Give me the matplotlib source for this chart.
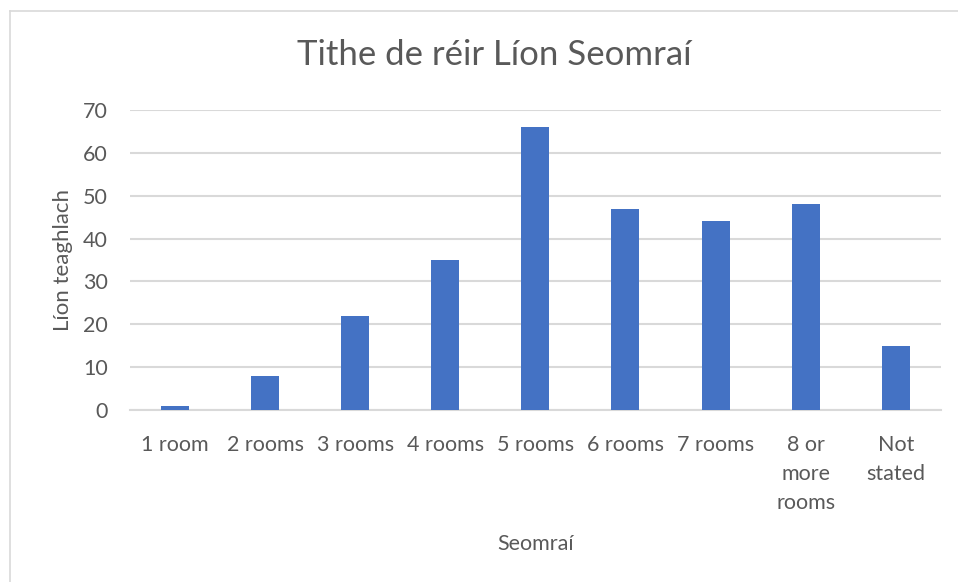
import matplotlib.pyplot as plt
import numpy as np

# data
categories = ["1 room", "2 rooms", "3 rooms", "4 rooms", "5 rooms",
              "6 rooms", "7 rooms", "8 or\nmore\nrooms", "Not\nstated"]
households = [1, 8, 22, 35, 66, 47, 44, 48, 15]
y_ticks = [0, 10, 20, 30, 40, 50, 60, 70]

text_col = "#595959"
grid_col = "#d9d9d9"
bar_col = "#4472C4"

plt.rcParams['font.family'] = ['Lato', 'DejaVu Sans']

fig = plt.figure(figsize=(9.58, 5.82), dpi=100)
ax = fig.add_axes([0.1357, 0.2955, 0.8463, 0.5155])

x = np.arange(len(categories))
ax.bar(x, households, width=0.31, color=bar_col, zorder=3)

ax.set_xlim(-0.5, len(categories) - 0.5)
ax.set_ylim(0, 70)
ax.set_yticks(y_ticks)
ax.yaxis.grid(True, color=grid_col, linewidth=1.5, zorder=0)
for s in ["top", "right", "left"]:
    ax.spines[s].set_visible(False)
ax.spines["bottom"].set_color(grid_col)
ax.spines["bottom"].set_linewidth(1.5)

ax.set_xticks(x)
ax.set_xticklabels(categories, linespacing=1.56, va="top")
ax.tick_params(axis="both", length=0, labelsize=15.5, colors=text_col)
ax.tick_params(axis="x", pad=18)
ax.tick_params(axis="y", pad=16)

ax.set_xlabel("Seomraí", fontsize=15.5, color=text_col, labelpad=15)
ax.set_ylabel("Líon teaghlach", fontsize=16, color=text_col, labelpad=7)
fig.text(0.5157, 0.906, "Tithe de réir Líon Seomraí", fontsize=25,
         color=text_col, ha="center", va="center")

# chart area border (left and top visible)
fig.add_artist(plt.Line2D([10 / 958, 10 / 958], [0, 1 - 11 / 582],
                          color=grid_col, linewidth=1.2))
fig.add_artist(plt.Line2D([10 / 958, 1], [1 - 11 / 582, 1 - 11 / 582],
                          color=grid_col, linewidth=1.2))

fig.savefig("out.png", dpi=100)
